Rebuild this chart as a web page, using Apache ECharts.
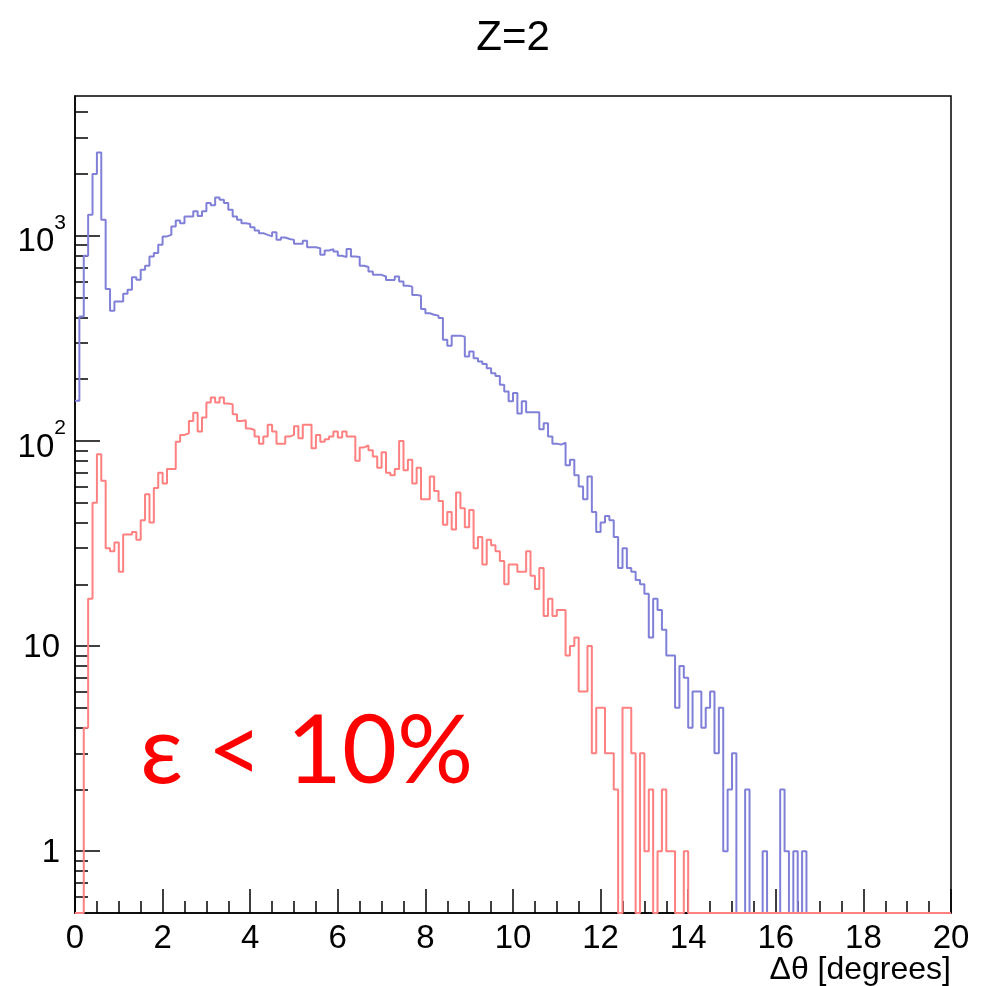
<!DOCTYPE html>
<html>
<head>
<meta charset="utf-8">
<script src="https://cdn.jsdelivr.net/npm/echarts@6/dist/echarts.min.js"></script>
<style>
html,body{margin:0;padding:0;background:#ffffff;}
#chart{width:981px;height:986px;}
</style>
</head>
<body>
<div id="chart"></div>
<script>
// ---- data (counts per 0.1 degree bin, 0..20 degrees) ----
const X_MIN = 0, X_MAX = 20, BIN_WIDTH = 0.1;
const Y_MIN = 0.5, Y_MAX = 4800;

const blueCounts = [
  157,404,800,1266,2000,2548,1197,550,431,478,
  478,521,545,628,610,683,714,793,824,904,
  993,1010,1110,1187,1150,1241,1241,1315,1250,1315,
  1443,1410,1537,1500,1443,1340,1241,1197,1152,1140,
  1101,1062,1030,1010,993,1040,955,980,965,955,
  914,914,945,880,878,870,808,848,861,838,
  799,787,861,793,787,714,704,670,645,645,
  633,609,609,633,598,570,565,515,510,439,
  419,412,408,397,311,291,326,326,322,258,
  273,253,244,237,226,214,207,188,174,156,
  171,136,156,138,138,138,114,122,105,97,
  96,98,76,81,68,60,52,67,45,36,
  40,43,41,34,24,30,24,23,21,20,
  18,11,17,15,12,9,9,5,8,7,
  4,6,6,4,5,6,3,5,1,2,
  3,0,0,2,0,0,0,1,0,0,
  0,2,1,0,1,0,1,0,0,0,
  0,0,0,0,0,0,0,0,0,0,
  0,0,0,0,0,0,0,0,0,0,
  0,0,0,0,0,0,0,0,0,0
];

const redCounts = [
  0,0,4,17,50,86,64,30,29,32,
  23,35,35,36,33,41,55,40,59,70,
  62,73,73,99,107,109,125,137,111,130,
  154,163,154,163,152,151,135,125,126,115,
  113,105,97,105,120,111,97,97,105,107,
  118,103,120,120,92,107,99,102,105,111,
  104,111,105,105,80,93,95,90,84,74,
  88,70,68,73,100,72,81,62,74,52,
  52,67,57,51,39,45,37,56,47,38,
  46,30,34,25,33,31,29,26,20,25,
  25,23,23,29,22,19,24,14,17,14,
  15,15,9,10,11,6,6,10,3,5,
  5,3,3,2,0,5,5,3,0,3,
  1,2,0,1,2,1,1,0,0,1,
  0,0,0,0,0,0,0,0,0,0,
  0,0,0,0,0,0,0,0,0,0,
  0,0,0,0,0,0,0,0,0,0,
  0,0,0,0,0,0,0,0,0,0,
  0,0,0,0,0,0,0,0,0,0,
  0,0,0,0,0,0,0,0,0,0
];

const xMajorTicks = [0, 2, 4, 6, 8, 10, 12, 14, 16, 18, 20];
const xMinorTicks = [0.5,1,1.5, 2.5,3,3.5, 4.5,5,5.5, 6.5,7,7.5, 8.5,9,9.5, 10.5,11,11.5,
                     12.5,13,13.5, 14.5,15,15.5, 16.5,17,17.5, 18.5,19,19.5];
const yMajorTicks = [1, 10, 100, 1000];
const yMajorLabels = ['{bp|1}', '{bp|10}', '{b|10}{sup|2}', '{b|10}{sup|3}'];
const yMinorTicks = [0.6,0.7,0.8,0.9, 2,3,4,5,6,7,8,9, 20,30,40,50,60,70,80,90, 200,300,400,500,600,700,800,900, 2000,3000,4000];

const titleText = 'Z=2';
const xAxisTitle = 'Δθ [degrees]';
const noteText = 'ε < 10%';

// ---- build step-histogram points (bin lower edges + final edge) ----
function stepPoints(counts) {
  const pts = counts.map((v, i) => [+(X_MIN + i * BIN_WIDTH).toFixed(2), v > 0 ? v : Y_MIN]);
  const last = counts[counts.length - 1];
  pts.push([X_MAX, last > 0 ? last : Y_MIN]);
  return pts;
}

function majorLabel(v) {
  for (let i = 0; i < yMajorTicks.length; i++) {
    if (Math.abs(Math.log10(v) - Math.log10(yMajorTicks[i])) < 1e-6) return yMajorLabels[i];
  }
  return '';
}

const FONT = '"Liberation Sans", Arial, Helvetica, sans-serif';
function tickStyle() { return {color: '#000', width: 1.5}; }
const chart = echarts.init(document.getElementById('chart'), null, {renderer: 'canvas'});

const option = {
  animation: false,
  backgroundColor: '#ffffff',
  grid: {
    left: 75, top: 96, right: 30, bottom: 73,
    show: true, borderColor: '#000000', borderWidth: 1.5, backgroundColor: 'transparent',
    containLabel: false
  },
  xAxis: [
    {
      type: 'value', min: X_MIN, max: X_MAX, interval: 2, position: 'bottom',
      axisLine: {show: true, onZero: false, lineStyle: {color: '#000', width: 1.5}},
      axisTick: {show: false},
      minorTick: {show: false},
      splitLine: {show: false},
      axisLabel: {color: '#000', fontFamily: FONT, fontSize: 33, margin: 9}
    },
    {
      type: 'value', min: X_MIN, max: X_MAX, position: 'bottom', offset: 0,
      axisLine: {show: false, onZero: false},
      axisTick: {show: true, inside: true, length: 24, customValues: xMajorTicks, lineStyle: tickStyle()},
      minorTick: {show: false},
      splitLine: {show: false},
      axisLabel: {show: false}
    },
    {
      type: 'value', min: X_MIN, max: X_MAX, position: 'bottom', offset: 0,
      axisLine: {show: false, onZero: false},
      axisTick: {show: true, inside: true, length: 12, customValues: xMinorTicks, lineStyle: tickStyle()},
      minorTick: {show: false},
      splitLine: {show: false},
      axisLabel: {show: false}
    }
  ],
  yAxis: [
    {
      type: 'log', logBase: 10, min: Y_MIN, max: Y_MAX, position: 'left',
      axisLine: {show: true, lineStyle: {color: '#000', width: 1.5}},
      axisTick: {show: true, inside: true, length: 25, customValues: yMajorTicks, lineStyle: tickStyle()},
      axisLabel: {
        show: true, customValues: yMajorTicks, color: '#000', fontFamily: FONT, fontSize: 33, margin: 9,
        formatter: majorLabel,
        rich: {
          bp: {fontFamily: FONT, fontSize: 33, color: '#000', lineHeight: 40, verticalAlign: 'bottom', padding: [0, 6, 2, 0]},
          b: {fontFamily: FONT, fontSize: 33, color: '#000', lineHeight: 46, verticalAlign: 'bottom'},
          sup: {fontFamily: FONT, fontSize: 21, color: '#000', lineHeight: 22, verticalAlign: 'top'}
        }
      },
      splitLine: {show: false},
      minorTick: {show: false},
      minorSplitLine: {show: false}
    },
    {
      type: 'log', logBase: 10, min: Y_MIN, max: Y_MAX, position: 'left', offset: 0,
      axisLine: {show: false},
      axisTick: {show: true, inside: true, length: 13, customValues: yMinorTicks, lineStyle: tickStyle()},
      axisLabel: {show: false},
      splitLine: {show: false},
      minorTick: {show: false}
    }
  ],
  series: [
    {
      name: 'all', type: 'line', step: 'end', xAxisIndex: 0, yAxisIndex: 0,
      data: stepPoints(blueCounts), symbol: 'none', clip: false,
      lineStyle: {color: '#8080d8', width: 2}, z: 2
    },
    {
      name: 'selected', type: 'line', step: 'end', xAxisIndex: 0, yAxisIndex: 0,
      data: stepPoints(redCounts), symbol: 'none', clip: false,
      lineStyle: {color: '#ff8080', width: 2}, z: 3
    }
  ],
  graphic: [
    {type: 'text', x: 513, y: 38, style: {text: titleText, fill: '#000', font: '42px ' + FONT, align: 'center', verticalAlign: 'middle'}},
    {type: 'text', x: 951, y: 970, style: {text: xAxisTitle, fill: '#000', font: '32px ' + FONT, align: 'right', verticalAlign: 'middle'}},
    {type: 'text', x: 140, y: 752, style: {text: noteText, fill: '#ff0000', font: '95px Lato, ' + FONT, align: 'left', verticalAlign: 'middle'}}
  ]
};
chart.setOption(option);
</script>
</body>
</html>
